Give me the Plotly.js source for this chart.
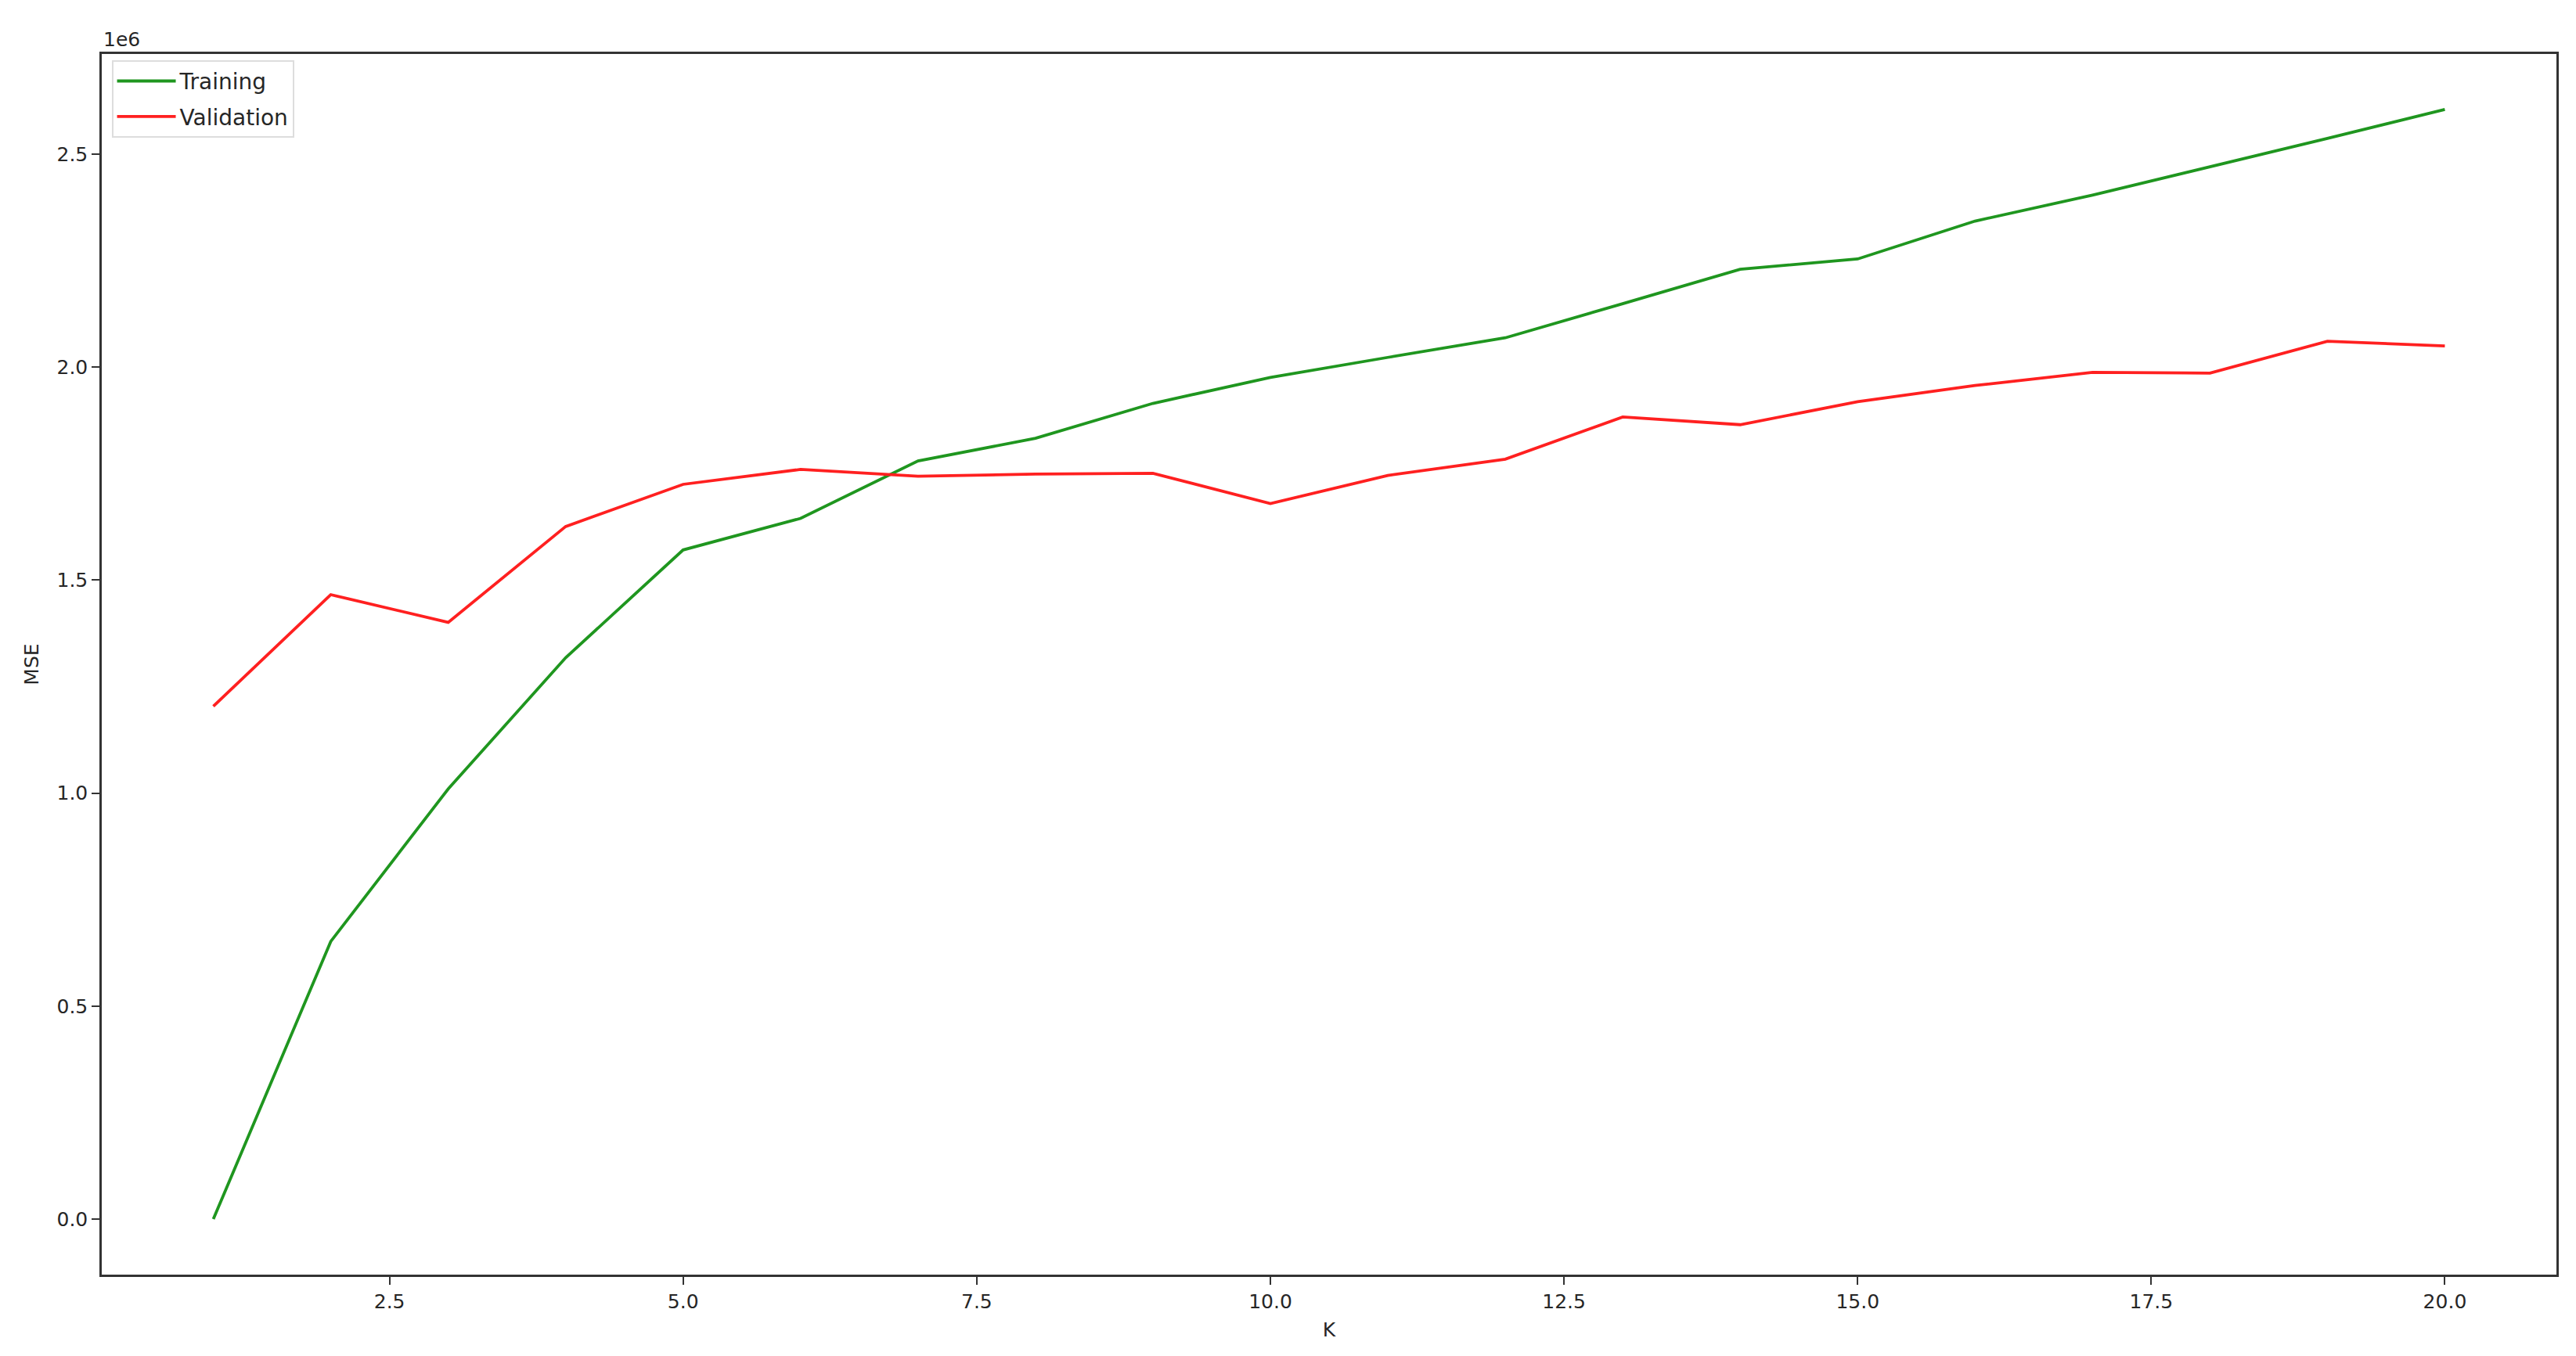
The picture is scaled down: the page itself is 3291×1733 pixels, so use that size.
<!DOCTYPE html>
<html>
<head>
<meta charset="utf-8">
<script src="https://cdn.plot.ly/plotly-3.0.1.min.js"></script>
<style>
  html, body { margin: 0; padding: 0; background: #ffffff; }
  #mseplot { width: 3291px; height: 1733px; }
</style>
</head>
<body>
<div id="mseplot"></div>
<script>
// MSE por número de vecinos K (train vs validation)
let k_values = [1, 2, 3, 4, 5, 6, 7, 8, 9, 10, 11, 12, 13, 14, 15, 16, 17, 18, 19, 20];
let mse_training = [0, 652000, 1010000, 1318000, 1571000, 1645000, 1780000, 1833000,
                    1915000, 1976000, 2023000, 2069000, 2149000, 2230000, 2254000,
                    2343000, 2404000, 2470000, 2537000, 2605000];
let mse_validation = [1204000, 1466000, 1401000, 1626000, 1725000, 1760000, 1744000,
                      1749000, 1751000, 1680000, 1746000, 1784000, 1883000, 1865000,
                      1919000, 1957000, 1988000, 1986000, 2061000, 2050000];
let y_tickvals = [0, 500000, 1000000, 1500000, 2000000, 2500000];
let y_ticktext = ["0.0", "0.5", "1.0", "1.5", "2.0", "2.5"];

let fontColor = "#262626";
let fontFamily = "DejaVu Sans, sans-serif";

function plotMSE() {
  let trace_train = {
    x: k_values,
    y: mse_training,
    name: "Training",
    legendgroup: "train",
    mode: "lines",
    line: {color: "#1f961f", width: 3.8}
  };
  let trace_val = {
    x: k_values,
    y: mse_validation,
    name: "Validation",
    legendgroup: "val",
    mode: "lines",
    line: {color: "#ff2020", width: 3.8}
  };

  let axis_common = {
    showline: true,
    mirror: true,
    linecolor: "#333333",
    linewidth: 2.5,
    showgrid: false,
    zeroline: false,
    ticks: "outside",
    ticklen: 10,
    tickwidth: 2,
    tickcolor: "#333333",
    tickfont: {size: 25, color: fontColor, family: fontFamily}
  };

  let layout = {
    width: 3291,
    height: 1733,
    margin: {l: 130, r: 25, t: 69, b: 104},
    paper_bgcolor: "#ffffff",
    plot_bgcolor: "#ffffff",
    font: {family: fontFamily, color: fontColor, size: 25},
    showlegend: true,
    legend: {
      x: 0.004,
      y: 0.995,
      xanchor: "left",
      yanchor: "top",
      bgcolor: "rgba(255,255,255,0.8)",
      bordercolor: "#dddddd",
      borderwidth: 2,
      itemwidth: 75,
      tracegroupgap: 6,
      font: {size: 28, color: fontColor, family: fontFamily}
    },
    xaxis: Object.assign({}, axis_common, {
      range: [0.05, 20.95],
      tick0: 0,
      dtick: 2.5,
      tickformat: ".1f",
      title: {text: "K", font: {size: 25, color: fontColor, family: fontFamily}, standoff: 14}
    }),
    yaxis: Object.assign({}, axis_common, {
      range: [-130250, 2735250],
      tickvals: y_tickvals,
      ticktext: y_ticktext,
      title: {text: "MSE", font: {size: 25, color: fontColor, family: fontFamily}, standoff: 16}
    }),
    annotations: [{
      text: "1e6",
      xref: "paper",
      yref: "paper",
      x: 0,
      y: 1,
      xanchor: "left",
      yanchor: "bottom",
      yshift: 2,
      showarrow: false,
      font: {size: 25, color: fontColor, family: fontFamily}
    }]
  };
  let config = {responsive: false, displayModeBar: false};
  Plotly.newPlot("mseplot", [trace_train, trace_val], layout, config);
}

plotMSE();
</script>
</body>
</html>
